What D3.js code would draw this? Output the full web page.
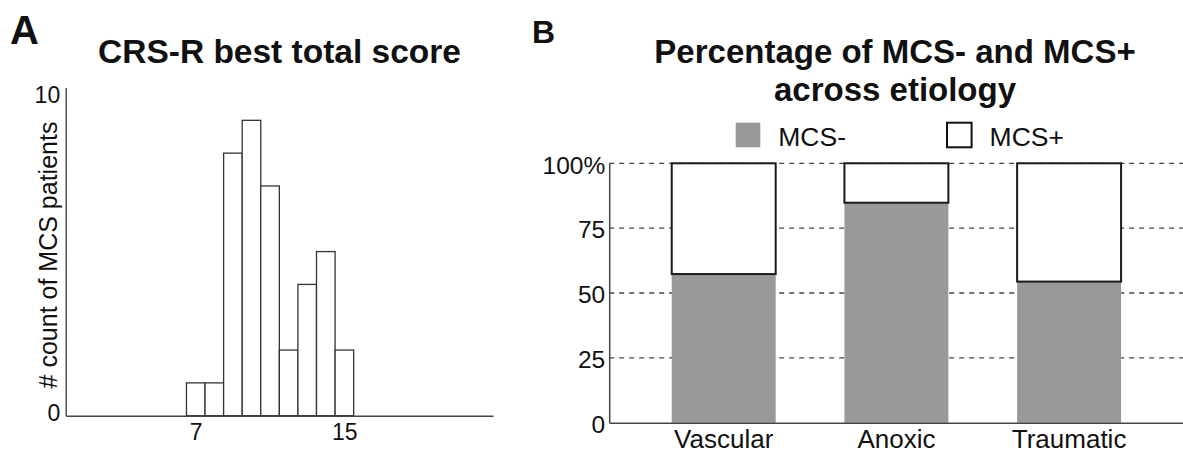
<!DOCTYPE html>
<html>
<head>
<meta charset="utf-8">
<script src="https://cdn.jsdelivr.net/npm/d3@7"></script>
<style>
  body { margin: 0; background: #fff; }
  text { font-family: "Liberation Sans", Arial, sans-serif; fill: #111; }
</style>
</head>
<body>
<div id="chart"></div>
<script>
// panel A: histogram of best CRS-R total score
var scores = [7, 8, 9, 10, 11, 12, 13, 14, 15];
var counts = [1, 1, 8, 9, 7, 2, 4, 5, 2];
var histTicksX = [7, 15];
var histTicksY = [0, 10];

// panel B: MCS- / MCS+ share per etiology (percent)
var etiologies = ["Vascular", "Anoxic", "Traumatic"];
var mcsMinus = [57.3, 84.8, 54.4];
var mcsPlus = [42.7, 15.2, 45.6];
var seriesNames = ["MCS-", "MCS+"];
var pctTicks = [0, 25, 50, 75, 100];

var W = 1183, H = 453;

var svg = d3.select("#chart")
            .append("svg")
            .attr("width", W)
            .attr("height", H);

// ---------- panel A ----------
var xA = d3.scaleLinear().domain([0, 23]).range([65.7, 493]);
var yA = d3.scaleLinear().domain([0, 10]).range([415.7, 87.5]);

svg.append("text")
    .attr("x", 10)
    .attr("y", 44)
    .attr("font-size", "40px")
    .attr("font-weight", "bold")
    .text("A");

svg.append("text")
    .attr("x", 279.5)
    .attr("y", 63.3)
    .attr("text-anchor", "middle")
    .attr("font-size", "33.5px")
    .attr("font-weight", "bold")
    .text("CRS-R best total score");

svg.selectAll("rect.hist")
    .data(scores)
    .enter()
    .append("rect")
    .attr("class", "hist")
    .attr("x", function(d) { return xA(d - 0.5); })
    .attr("y", function(d, i) { return yA(counts[i]); })
    .attr("width", xA(1) - xA(0))
    .attr("height", function(d, i) { return yA(0) - yA(counts[i]); })
    .attr("fill", "white")
    .attr("stroke", "#333")
    .attr("stroke-width", 1.3);

var axA_x = svg.append("g")
    .attr("transform", "translate(0," + yA(0) + ")")
    .call(d3.axisBottom(xA).tickValues(histTicksX).tickSize(0).tickPadding(7.5));

var axA_y = svg.append("g")
    .attr("transform", "translate(" + xA(0) + ",0)")
    .call(d3.axisLeft(yA).tickValues(histTicksY).tickSize(0).tickPadding(5.5));

// labels sit inside the axis ends, not centred on them
axA_y.selectAll(".tick text")
    .attr("dy", function(d) { return d === 10 ? "0.66em" : "0.2em"; });

[axA_x, axA_y].forEach(function(g) {
    g.select(".domain").attr("stroke", "#444").attr("stroke-width", 1.4);
    g.selectAll("text")
        .attr("font-family", "Liberation Sans, Arial, sans-serif")
        .attr("font-size", "23px")
        .attr("fill", "#111");
});

svg.append("text")
    .attr("transform", "translate(57,255) rotate(-90)")
    .attr("text-anchor", "middle")
    .attr("font-size", "25px")
    .text("# count of MCS patients");

// ---------- panel B ----------
var xB = d3.scaleBand()
    .domain(etiologies)
    .range([609.2, 1183.6])
    .paddingInner(0.398)
    .paddingOuter(0.362);
var yB = d3.scaleLinear().domain([0, 100]).range([422.7, 163.3]);
var color = d3.scaleOrdinal().domain(seriesNames).range(["#999999", "#ffffff"]);

svg.append("text")
    .attr("x", 532)
    .attr("y", 43.3)
    .attr("font-size", "32px")
    .attr("font-weight", "bold")
    .text("B");

var titleB = svg.append("text")
    .attr("text-anchor", "middle")
    .attr("font-size", "33px")
    .attr("font-weight", "bold");
titleB.append("tspan").attr("x", 895).attr("y", 63.3).text("Percentage of MCS- and MCS+");
titleB.append("tspan").attr("x", 895).attr("y", 101).text("across etiology");

// legend
var legend = svg.selectAll("g.legend")
    .data(seriesNames)
    .enter()
    .append("g")
    .attr("class", "legend")
    .attr("transform", function(d, i) { return "translate(" + (735.7 + i * 211.3) + ",122.7)"; });

legend.append("rect")
    .attr("width", 24.6)
    .attr("height", 24.6)
    .attr("fill", function(d) { return color(d); })
    .attr("stroke", function(d) { return d === "MCS+" ? "#111" : "none"; })
    .attr("stroke-width", 2);

legend.append("text")
    .attr("x", 42.6)
    .attr("y", 23)
    .attr("font-size", "26.5px")
    .text(function(d) { return d; });

// dashed grid
svg.selectAll("line.grid")
    .data(pctTicks.filter(function(d) { return d > 0; }))
    .enter()
    .append("line")
    .attr("class", "grid")
    .attr("x1", xB.range()[0])
    .attr("x2", W)
    .attr("y1", function(d) { return yB(d); })
    .attr("y2", function(d) { return yB(d); })
    .attr("stroke", "#444")
    .attr("stroke-width", 1.3)
    .attr("stroke-dasharray", "5,5");

var rows = etiologies.map(function(e, i) {
    return { etiology: e, "MCS-": mcsMinus[i], "MCS+": mcsPlus[i] };
});
var stacked = d3.stack().keys(seriesNames)(rows);

svg.selectAll("g.series")
    .data(stacked)
    .enter()
    .append("g")
    .attr("class", "series")
    .attr("fill", function(d) { return color(d.key); })
    .attr("stroke", function(d) { return d.key === "MCS+" ? "#1a1a1a" : "none"; })
    .attr("stroke-width", 2)
  .selectAll("rect")
    .data(function(d) { return d; })
    .enter()
    .append("rect")
    .attr("x", function(d) { return xB(d.data.etiology); })
    .attr("y", function(d) { return yB(d[1]); })
    .attr("width", xB.bandwidth())
    .attr("height", function(d) { return yB(d[0]) - yB(d[1]); });

var axB_x = svg.append("g")
    .attr("transform", "translate(0," + yB(0) + ")")
    .call(d3.axisBottom(xB).tickSize(0).tickPadding(6.5));

var axB_y = svg.append("g")
    .attr("transform", "translate(" + xB.range()[0] + ",0)")
    .call(d3.axisLeft(yB).tickValues(pctTicks).tickSize(0).tickPadding(4)
        .tickFormat(function(d) { return d === 100 ? "100%" : d; }));

axB_y.selectAll(".tick text").attr("dy", "0.4em");

[axB_x, axB_y].forEach(function(g) {
    g.select(".domain").attr("stroke", "#444").attr("stroke-width", 1.5);
    g.selectAll("text")
        .attr("font-family", "Liberation Sans, Arial, sans-serif")
        .attr("fill", "#111");
});
axB_x.selectAll("text").attr("font-size", "26px");
axB_y.selectAll("text").attr("font-size", "24.5px");
</script>
</body>
</html>
